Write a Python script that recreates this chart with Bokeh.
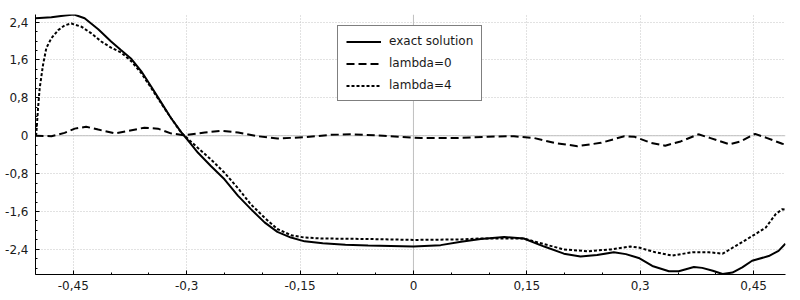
from bokeh.plotting import figure
from bokeh.models import Range1d, FixedTicker, CustomJSTickFormatter, Span, Legend, LegendItem
from bokeh.embed import file_html
from bokeh.resources import INLINE

# ---- data ----
x_exact = [-0.5, -0.479, -0.461, -0.449, -0.435, -0.417, -0.40, -0.387, -0.373, -0.36,
           -0.347, -0.334, -0.321, -0.307, -0.294, -0.285, -0.268, -0.25, -0.232, -0.215,
           -0.197, -0.18, -0.162, -0.144, -0.12, -0.09, -0.06, -0.03, 0.0, 0.036,
           0.063, 0.089, 0.12, 0.146, 0.173, 0.199, 0.221, 0.243, 0.265, 0.281,
           0.298, 0.316, 0.338, 0.351, 0.371, 0.382, 0.396, 0.409, 0.422, 0.435,
           0.448, 0.470, 0.483, 0.492]
y_exact = [2.48, 2.50, 2.54, 2.56, 2.48, 2.25, 1.99, 1.81, 1.62, 1.36,
           1.04, 0.71, 0.38, 0.07, -0.18, -0.36, -0.64, -0.92, -1.27, -1.55,
           -1.83, -2.03, -2.15, -2.23, -2.27, -2.30, -2.32, -2.33, -2.34, -2.31,
           -2.24, -2.18, -2.14, -2.17, -2.34, -2.49, -2.55, -2.52, -2.46, -2.50,
           -2.58, -2.75, -2.86, -2.86, -2.77, -2.79, -2.85, -2.92, -2.89, -2.78,
           -2.64, -2.54, -2.43, -2.28]

x_lam0 = [-0.5, -0.479, -0.4615, -0.448, -0.433, -0.417, -0.395, -0.378, -0.356, -0.338,
          -0.321, -0.303, -0.276, -0.254, -0.232, -0.206, -0.18, -0.144, -0.109, -0.08,
          -0.04, 0.01, 0.054, 0.098, 0.133, 0.16, 0.186, 0.217, 0.248, 0.279,
          0.292, 0.314, 0.333, 0.3535, 0.377, 0.393, 0.418, 0.433, 0.452, 0.468,
          0.488, 0.492]
y_lam0 = [0.0, -0.01, 0.06, 0.15, 0.19, 0.13, 0.05, 0.10, 0.17, 0.15,
          0.05, 0.01, 0.07, 0.105, 0.07, -0.01, -0.06, -0.03, 0.02, 0.03,
          0.0, -0.05, -0.05, -0.02, -0.01, -0.05, -0.15, -0.22, -0.15, -0.01,
          -0.02, -0.15, -0.21, -0.12, 0.03, -0.05, -0.18, -0.12, 0.04, -0.05,
          -0.17, -0.18]

x_lam4 = [-0.5, -0.499, -0.4966, -0.4945, -0.49, -0.4857, -0.479, -0.47, -0.4615, -0.4526,
          -0.439, -0.426, -0.413, -0.40, -0.387, -0.373, -0.36, -0.347, -0.334, -0.321,
          -0.307, -0.285, -0.268, -0.25, -0.232, -0.215, -0.197, -0.18, -0.162, -0.144,
          -0.12, -0.06, 0.0, 0.06, 0.089, 0.12, 0.146, 0.173, 0.199, 0.230,
          0.261, 0.287, 0.298, 0.320, 0.3425, 0.369, 0.391, 0.409, 0.426, 0.448,
          0.466, 0.479, 0.488, 0.492]
y_lam4 = [0.0, 0.03, 0.59, 1.0, 1.50, 1.85, 2.06, 2.23, 2.33, 2.37,
          2.30, 2.16, 1.99, 1.86, 1.76, 1.57, 1.32, 1.01, 0.69, 0.38,
          0.06, -0.26, -0.50, -0.78, -1.11, -1.45, -1.73, -1.97, -2.10, -2.15,
          -2.17, -2.18, -2.20, -2.19, -2.17, -2.17, -2.17, -2.29, -2.40, -2.44,
          -2.40, -2.34, -2.36, -2.46, -2.53, -2.46, -2.46, -2.49, -2.33, -2.12,
          -1.94, -1.66, -1.55, -1.56]

x_ticks = [-0.45, -0.3, -0.15, 0.0, 0.15, 0.3, 0.45]
x_minor = [-0.5, -0.4, -0.35, -0.25, -0.2, -0.1, -0.05, 0.05, 0.1, 0.2, 0.25, 0.35, 0.4]
y_ticks = [-2.4, -1.6, -0.8, 0.0, 0.8, 1.6, 2.4]
y_minor = [-2.8, -2.6, -2.2, -2.0, -1.8, -1.4, -1.2, -1.0, -0.6, -0.4, -0.2,
           0.2, 0.4, 0.6, 1.0, 1.2, 1.4, 1.8, 2.0, 2.2]

labels = ["exact solution", "lambda=0", "lambda=4"]

FONT = "DejaVu Sans"
TXT = "#1a1a1a"

p = figure(width=792, height=292, output_backend="svg", toolbar_location=None,
           x_range=Range1d(-0.5, 0.4922), y_range=Range1d(-2.93, 2.56),
           min_border_left=35, min_border_right=7, min_border_top=14, min_border_bottom=16)
p.outline_line_color = None
p.background_fill_color = "white"
p.border_fill_color = "white"

fmt = CustomJSTickFormatter(code="return (Math.round(tick*100)/100).toString().replace('.', ',');")
p.xaxis.ticker = FixedTicker(ticks=x_ticks, minor_ticks=x_minor)
p.yaxis.ticker = FixedTicker(ticks=y_ticks, minor_ticks=y_minor)
for ax in (p.xaxis, p.yaxis):
    ax.formatter = fmt
    ax.major_tick_in = 4
    ax.major_tick_out = 0
    ax.minor_tick_in = 2
    ax.minor_tick_out = 0
    ax.axis_line_color = "black"
    ax.axis_line_width = 1
    ax.major_tick_line_color = "black"
    ax.minor_tick_line_color = "black"
    ax.major_label_text_font = FONT
    ax.major_label_text_font_size = "12px"
    ax.major_label_text_color = TXT
p.xaxis.major_label_standoff = 6
p.yaxis.major_label_standoff = 7

for g in (p.xgrid, p.ygrid):
    g.grid_line_color = "#c4c4c4"
    g.grid_line_dash = "1 2"
    g.grid_line_width = 1

for dim in ("height", "width"):
    s = Span(location=0, dimension=dim, line_color="#c0c0c0", line_width=1)
    s.level = "underlay"
    p.add_layout(s)

r1 = p.line(x_exact, y_exact, line_color="black", line_width=2)
r2 = p.line(x_lam0, y_lam0, line_color="black", line_width=2, line_dash="8 4")
r3 = p.line(x_lam4, y_lam4, line_color="black", line_width=2, line_dash="3 2")

legend = Legend(items=[LegendItem(label=labels[0], renderers=[r1]),
                       LegendItem(label=labels[1], renderers=[r2]),
                       LegendItem(label=labels[2], renderers=[r3])],
                location=(302, 173), border_line_color="black", border_line_width=1,
                background_fill_color="white", background_fill_alpha=1.0,
                padding=8, spacing=8, margin=0,
                glyph_width=35, glyph_height=13, label_height=13, label_standoff=8,
                label_text_font=FONT, label_text_font_size="12px", label_text_color=TXT)
p.add_layout(legend)

open("out.html", "w").write(file_html(p, INLINE))
